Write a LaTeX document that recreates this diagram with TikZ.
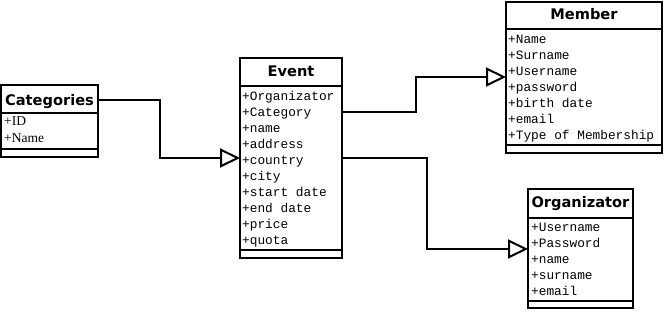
\documentclass[tikz,border=0pt]{standalone}
\usepackage{fontspec}
\usetikzlibrary{arrows.meta,calc}
\newfontfamily\hdrfont{DejaVu Sans}
\newfontfamily\monofont{Liberation Mono}
\newfontfamily\seriffont{Liberation Serif}

\tikzset{
  classbox/.style={draw, line width=2pt, fill=white, anchor=north west, inner sep=0pt, outer sep=0pt},
  divider/.style={line width=2pt},
  title/.style={anchor=base, inner sep=0pt, font=\hdrfont\bfseries\fontsize{14.6}{16}\selectfont},
  field/.style={anchor=base west, inner sep=0pt, font=\monofont\fontsize{12.8}{14}\selectfont},
  sfield/.style={anchor=base west, inner sep=0pt, font=\seriffont\fontsize{13.5}{15}\selectfont},
  inherit/.style={line width=2pt, -{Triangle[open, length=20pt, width=19pt, line width=2pt]}}
}

\begin{document}
\begin{tikzpicture}[x=1pt, y=-1pt]
\useasboundingbox (0,0) rectangle (665,312);

% class boxes
\node[classbox, minimum width=97pt,  minimum height=72pt]  (categories)  at (1,85)    {};
\node[classbox, minimum width=102pt, minimum height=200pt] (event)       at (240,58)  {};
\node[classbox, minimum width=156pt, minimum height=151pt] (member)      at (506,2)   {};
\node[classbox, minimum width=105pt, minimum height=119pt] (organizator) at (528,189) {};

% compartment dividers
\draw[divider] ([yshift=-28pt]categories.north west) -- ([yshift=-28pt]categories.north east);
\draw[divider] ([yshift=8pt]categories.south west) -- ([yshift=8pt]categories.south east);
\draw[divider] ([yshift=-28pt]event.north west) -- ([yshift=-28pt]event.north east);
\draw[divider] ([yshift=8pt]event.south west) -- ([yshift=8pt]event.south east);
\draw[divider] ([yshift=-27pt]member.north west) -- ([yshift=-27pt]member.north east);
\draw[divider] ([yshift=8pt]member.south west) -- ([yshift=8pt]member.south east);
\draw[divider] ([yshift=-29pt]organizator.north west) -- ([yshift=-29pt]organizator.north east);
\draw[divider] ([yshift=7pt]organizator.south west) -- ([yshift=7pt]organizator.south east);

% class names
\node[title] (catname) at ($(categories.north west)!0.5!(categories.north east)+(0,21)$) {Categories};
\node[title] (evname)  at ($(event.north west)!0.5!(event.north east)+(0,19)$) {Event};
\node[title] (memname) at ($(member.north west)!0.5!(member.north east)+(0,18)$) {Member};
\node[title] (orgname) at ($(organizator.north west)!0.5!(organizator.north east)+(0,19)$) {Organizator};

% attributes
\node[sfield] (cat1) at ($(categories.north west)+(3,41)$) {+ID};
\node[sfield] (cat2) at ($(categories.north west)+(3,58)$) {+Name};

\foreach \t [count=\i] in {+Organizator,+Category,+name,+address,+country,+city,+start date,+end date,+price,+quota}
  \node[field] (ev\i) at ($(event.north west)+(2,{43+16*(\i-1)})$) {\t};

\foreach \t [count=\i] in {+Name,+Surname,+Username,+password,+birth date,+email,+Type of Membership}
  \node[field] (mem\i) at ($(member.north west)+(2,{42+16*(\i-1)})$) {\t};

\foreach \t [count=\i] in {+Username,+Password,+name,+surname,+email}
  \node[field] (org\i) at ($(organizator.north west)+(3,{43+16*(\i-1)})$) {\t};

% generalisation connectors
\draw[inherit] ([yshift=-15pt]categories.north east) -- ++(62,0) |- ([yshift=-100pt]event.north west);
\draw[inherit] ([yshift=-54pt]event.north east) -- ++(74,0) |- ([yshift=-75pt]member.north west);
\draw[inherit] ([yshift=-100pt]event.north east) -- ++(85,0) |- ([yshift=-60pt]organizator.north west);
\end{tikzpicture}
\end{document}
